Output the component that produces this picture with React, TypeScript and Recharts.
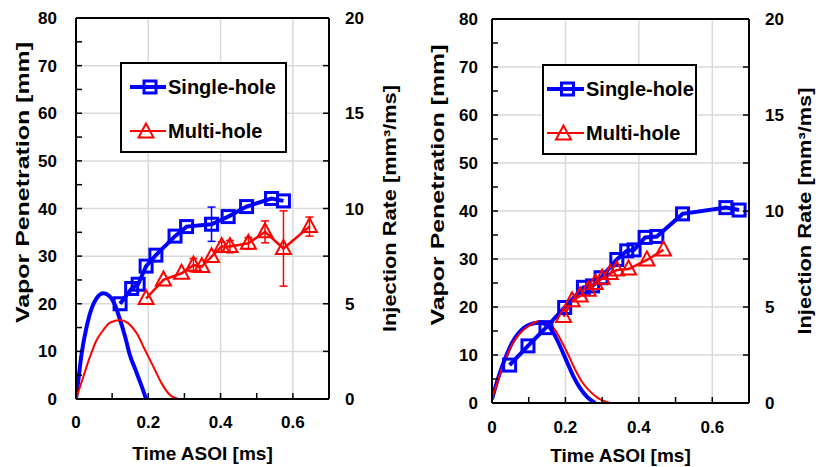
import React from 'react';
import { ComposedChart, Line, XAxis, YAxis, ReferenceLine, ErrorBar, Legend, Label } from 'recharts';

const FONT = '"Liberation Sans", Arial, sans-serif';
const BLUE = '#0000FF';
const RED = '#FF0000';
const GRID = '#D9D9D9';

// axes
const xTicks = [0, 0.1, 0.2, 0.3, 0.4, 0.5, 0.6, 0.7];
const xLabelled = [0, 0.2, 0.4, 0.6];
const penTicks = [0, 5, 10, 15, 20, 25, 30, 35, 40, 45, 50, 55, 60, 65, 70, 75, 80];
const rateTicks = [0, 2.5, 5, 7.5, 10, 12.5, 15, 17.5, 20];
const gridX = [0.2, 0.4, 0.6];
const gridY = [10, 20, 30, 40, 50, 60, 70];

const seriesNames = ['Single-hole', 'Multi-hole'];

// left panel: vapor penetration [mm]
const leftSingleT = [0.122, 0.154, 0.172, 0.194, 0.221, 0.274, 0.306, 0.375, 0.421, 0.472, 0.541, 0.574];
const leftSingleMm = [20.0, 23.2, 24.1, 27.9, 30.2, 34.2, 36.2, 36.7, 38.3, 40.4, 42.1, 41.6];
const leftSingleErr = [null, null, null, null, null, null, null, 3.6, null, null, null, null];
const leftMultiT = [0.194, 0.242, 0.292, 0.325, 0.348, 0.375, 0.403, 0.426, 0.477, 0.523, 0.574, 0.646];
const leftMultiMm = [21.1, 25.0, 26.4, 28.1, 27.8, 29.9, 32.0, 32.0, 32.7, 35.1, 31.6, 36.2];
const leftMultiErr = [null, null, null, 1.4, null, null, 1.0, 1.3, 1.2, 2.3, 7.9, 2.0];

// left panel: injection rate [mm3/ms]
const leftRateSingleT = [0, 0.0065, 0.0157, 0.0295, 0.0434, 0.0572, 0.0756, 0.0922, 0.108, 0.122, 0.136, 0.149, 0.163, 0.177, 0.194];
const leftRateSingleV = [0, 1.0, 2.4, 3.8, 4.76, 5.29, 5.55, 5.41, 4.93, 4.15, 3.27, 2.31, 1.61, 0.91, 0];
const leftRateMultiT = [0, 0.0203, 0.0387, 0.0572, 0.0756, 0.094, 0.122, 0.145, 0.168, 0.191, 0.214, 0.237, 0.26, 0.283];
const leftRateMultiV = [0, 1.17, 2.22, 3.1, 3.62, 4.01, 4.15, 3.97, 3.45, 2.57, 1.7, 0.82, 0.21, 0];

// right panel: vapor penetration [mm]
const rightSingleT = [0.048, 0.098, 0.147, 0.198, 0.249, 0.274, 0.297, 0.34, 0.367, 0.387, 0.417, 0.449, 0.519, 0.637, 0.673];
const rightSingleMm = [7.9, 11.9, 15.7, 19.9, 24.1, 24.4, 26.1, 29.9, 31.7, 31.9, 34.5, 34.7, 39.4, 40.7, 40.2];
const rightMultiT = [0.195, 0.218, 0.24, 0.262, 0.281, 0.3, 0.322, 0.34, 0.372, 0.422, 0.467];
const rightMultiMm = [18.0, 21.3, 22.3, 23.5, 24.9, 26.0, 27.0, 27.7, 27.9, 29.8, 31.9];

// right panel: injection rate [mm3/ms]
const rightRateSingleT = [0, 0.018, 0.036, 0.054, 0.072, 0.0996, 0.127, 0.15, 0.168, 0.186, 0.204, 0.222, 0.24, 0.258, 0.281];
const rightRateSingleV = [0.2, 1.37, 2.33, 3.11, 3.63, 4.06, 4.18, 4.06, 3.63, 2.93, 2.15, 1.37, 0.77, 0.33, 0];
const rightRateMultiT = [0, 0.018, 0.036, 0.054, 0.072, 0.0996, 0.13, 0.154, 0.172, 0.19, 0.208, 0.227, 0.245, 0.263, 0.29, 0.322];
const rightRateMultiV = [0.2, 1.28, 2.24, 3.02, 3.54, 4.01, 4.27, 4.15, 3.8, 3.19, 2.5, 1.72, 1.11, 0.68, 0.24, 0];

type Pt = { t: number; v: number; err: number | null };
const zip = (t: number[], v: number[], e?: (number | null)[]): Pt[] =>
  t.map((x, i) => ({ t: x, v: v[i], err: e ? e[i] : null }));

function Square({ cx, cy }: { cx: number; cy: number }) {
  return <rect x={cx - 6} y={cy - 6} width={12} height={12} fill="none" stroke={BLUE} strokeWidth={3} />;
}

function Triangle({ cx, cy }: { cx: number; cy: number }) {
  return (
    <polygon
      points={`${cx},${cy - 8.5} ${cx - 7.5},${cy + 5.5} ${cx + 7.5},${cy + 5.5}`}
      fill="none"
      stroke={RED}
      strokeWidth={2}
    />
  );
}

const textStyle = { fontSize: 17, fontWeight: 'bold' as const, fontFamily: FONT, fill: '#000' };

function XTick(props: any) {
  const { x, y, payload, m } = props;
  const v = payload.value;
  const show = xLabelled.some(t => Math.abs(t - v) < 1e-6);
  const ay = y - m;
  return (
    <g>
      <line x1={x} x2={x} y1={ay} y2={ay - 6} stroke="#000" strokeWidth={1.5} />
      {show && (
        <text x={x} y={y} dy="0.71em" textAnchor="middle" {...textStyle}>
          {v === 0 ? '0' : v.toFixed(1)}
        </text>
      )}
    </g>
  );
}

function LeftTick(props: any) {
  const { x, y, payload, m } = props;
  const v = payload.value;
  const ax = x + m;
  return (
    <g>
      <line x1={ax} x2={ax + 6} y1={y} y2={y} stroke="#000" strokeWidth={1.5} />
      {v % 10 === 0 && (
        <text x={x} y={y} dy="0.36em" textAnchor="end" {...textStyle}>
          {v}
        </text>
      )}
    </g>
  );
}

function RightTick(props: any) {
  const { x, y, payload, m } = props;
  const v = payload.value;
  const ax = x - m;
  return (
    <g>
      <line x1={ax} x2={ax - 6} y1={y} y2={y} stroke="#000" strokeWidth={1.5} />
      {v % 5 === 0 && (
        <text x={x} y={y} dy="0.36em" textAnchor="start" {...textStyle}>
          {v}
        </text>
      )}
    </g>
  );
}

function VTitle(props: any) {
  const { viewBox, text, bx, dy, len } = props;
  const x = viewBox.x + bx;
  const y = viewBox.y + viewBox.height / 2 + dy;
  return (
    <text
      x={x}
      y={y}
      transform={`rotate(-90, ${x}, ${y})`}
      textAnchor="middle"
      fontSize={18}
      fontWeight="bold"
      fontFamily={FONT}
      fill="#000"
      textLength={len}
      lengthAdjust="spacingAndGlyphs"
    >
      {text}
    </text>
  );
}

function LegendBox(props: any) {
  const { payload, w, h, sample, textX } = props;
  const items = seriesNames
    .map(n => (payload || []).find((p: any) => p.value === n))
    .filter(Boolean);
  return (
    <div
      style={{
        position: 'relative',
        width: w,
        height: h,
        boxSizing: 'border-box',
        border: '2px solid #000',
        background: '#fff',
      }}
    >
      {items.map((it: any, i: number) => {
        const single = it.value === seriesNames[0];
        return (
          <div key={it.value} style={{ position: 'absolute', left: 0, top: 12 + i * 44, height: 22, width: w }}>
            <svg width={sample[1] + 2} height={22} style={{ position: 'absolute', left: 0, top: 0 }}>
              <line
                x1={sample[0]}
                x2={sample[1]}
                y1={11}
                y2={11}
                stroke={single ? BLUE : RED}
                strokeWidth={single ? 4 : 2}
              />
              {single ? (
                <Square cx={(sample[0] + sample[1]) / 2 + 2} cy={11} />
              ) : (
                <Triangle cx={(sample[0] + sample[1]) / 2 - 2} cy={12} />
              )}
            </svg>
            <span
              style={{
                position: 'absolute',
                left: textX,
                top: 0,
                lineHeight: '22px',
                fontSize: 20,
                fontWeight: 'bold',
                fontFamily: FONT,
                color: '#000',
              }}
            >
              {it.value}
            </span>
          </div>
        );
      })}
    </div>
  );
}

interface PanelProps {
  left: number;
  width: number;
  top: number;
  xAxisH: number;
  yLeftW: number;
  yRightW: number;
  xTickM: number;
  lTickM: number;
  rTickM: number;
  xTitleOffset: number;
  lTitle: { bx: number; dy: number; len: number };
  rTitle: { bx: number; dy: number; len: number };
  legend: { left: number; top: number; w: number; h: number; sample: [number, number]; textX: number };
  single: Pt[];
  multi: Pt[];
  rateSingle: Pt[];
  rateMulti: Pt[];
}

function Panel(p: PanelProps) {
  return (
    <div style={{ position: 'absolute', left: p.left, top: 0 }}>
      <ComposedChart width={p.width} height={467} margin={{ top: p.top, right: 0, bottom: 0, left: 0 }}>
        <XAxis
          type="number"
          dataKey="t"
          domain={[0, 0.7]}
          allowDataOverflow
          ticks={xTicks}
          interval={0}
          height={p.xAxisH}
          tickSize={0}
          tickMargin={p.xTickM}
          tick={(tp: any) => <XTick {...tp} m={p.xTickM} />}
          axisLine={{ stroke: '#000', strokeWidth: 2 }}
        >
          <Label
            value="Time ASOI [ms]"
            position="insideBottom"
            offset={p.xTitleOffset}
            fontSize={19}
            fontWeight="bold"
            fontFamily={FONT}
            fill="#000"
          />
        </XAxis>
        <YAxis
          yAxisId="left"
          type="number"
          domain={[0, 80]}
          allowDataOverflow
          ticks={penTicks}
          interval={0}
          width={p.yLeftW}
          tickSize={0}
          tickMargin={p.lTickM}
          tick={(tp: any) => <LeftTick {...tp} m={p.lTickM} />}
          axisLine={{ stroke: '#000', strokeWidth: 2 }}
        >
          <Label content={(lp: any) => <VTitle {...lp} text="Vapor Penetration [mm]" {...p.lTitle} />} />
        </YAxis>
        <YAxis
          yAxisId="right"
          orientation="right"
          type="number"
          domain={[0, 20]}
          allowDataOverflow
          ticks={rateTicks}
          interval={0}
          width={p.yRightW}
          tickSize={0}
          tickMargin={p.rTickM}
          tick={(tp: any) => <RightTick {...tp} m={p.rTickM} />}
          axisLine={{ stroke: '#000', strokeWidth: 2 }}
        >
          <Label content={(lp: any) => <VTitle {...lp} text="Injection Rate [mm³/ms]" {...p.rTitle} />} />
        </YAxis>

        {gridY.map(v => (
          <ReferenceLine key={`gy${v}`} yAxisId="left" y={v} stroke={GRID} strokeWidth={1.5} />
        ))}
        {gridX.map(v => (
          <ReferenceLine key={`gx${v}`} yAxisId="left" x={v} stroke={GRID} strokeWidth={1.5} />
        ))}
        <ReferenceLine yAxisId="left" y={80} stroke="#000" strokeWidth={2} />

        <Line
          yAxisId="right"
          data={p.rateSingle}
          dataKey="v"
          type="monotone"
          stroke={BLUE}
          strokeWidth={4}
          dot={false}
          legendType="none"
          isAnimationActive={false}
        />
        <Line
          yAxisId="right"
          data={p.rateMulti}
          dataKey="v"
          type="monotone"
          stroke={RED}
          strokeWidth={2}
          dot={false}
          legendType="none"
          isAnimationActive={false}
        />
        <Line
          yAxisId="left"
          name={seriesNames[0]}
          data={p.single}
          dataKey="v"
          type="linear"
          stroke={BLUE}
          strokeWidth={4}
          dot={(dp: any) => <Square key={`sq${dp.index}`} cx={dp.cx} cy={dp.cy} />}
          isAnimationActive={false}
        >
          <ErrorBar dataKey="err" direction="y" width={4} stroke={BLUE} strokeWidth={1.5} />
        </Line>
        <Line
          yAxisId="left"
          name={seriesNames[1]}
          data={p.multi}
          dataKey="v"
          type="linear"
          stroke={RED}
          strokeWidth={2.5}
          dot={(dp: any) => <Triangle key={`tr${dp.index}`} cx={dp.cx} cy={dp.cy} />}
          isAnimationActive={false}
        >
          <ErrorBar dataKey="err" direction="y" width={4} stroke={RED} strokeWidth={1.5} />
        </Line>

        <Legend
          layout="vertical"
          align="center"
          verticalAlign="middle"
          wrapperStyle={{ left: p.legend.left, top: p.legend.top, width: p.legend.w, height: p.legend.h }}
          content={(lp: any) => (
            <LegendBox {...lp} w={p.legend.w} h={p.legend.h} sample={p.legend.sample} textX={p.legend.textX} />
          )}
        />
      </ComposedChart>
    </div>
  );
}

export default function App() {
  return (
    <div style={{ position: 'absolute', left: 0, top: 0, width: 818, height: 467, background: '#fff', overflow: 'hidden' }}>
      <Panel
        left={0}
        width={410}
        top={18}
        xAxisH={68}
        yLeftW={76}
        yRightW={81}
        xTickM={17}
        lTickM={19}
        rTickM={16}
        xTitleOffset={7}
        lTitle={{ bx: 29, dy: -26, len: 281 }}
        rTitle={{ bx: 67, dy: 0, len: 247 }}
        legend={{ left: 120, top: 62, w: 167, h: 91, sample: [8, 44], textX: 46 }}
        single={zip(leftSingleT, leftSingleMm, leftSingleErr)}
        multi={zip(leftMultiT, leftMultiMm, leftMultiErr)}
        rateSingle={zip(leftRateSingleT, leftRateSingleV)}
        rateMulti={zip(leftRateMultiT, leftRateMultiV)}
      />
      <Panel
        left={410}
        width={408}
        top={19}
        xAxisH={64}
        yLeftW={82}
        yRightW={69}
        xTickM={18}
        lTickM={14}
        rTickM={16}
        xTitleOffset={5}
        lTitle={{ bx: 34, dy: -26, len: 281 }}
        rTitle={{ bx: 62, dy: 0, len: 247 }}
        legend={{ left: 132, top: 64, w: 155, h: 91, sample: [3, 40], textX: 42 }}
        single={zip(rightSingleT, rightSingleMm)}
        multi={zip(rightMultiT, rightMultiMm)}
        rateSingle={zip(rightRateSingleT, rightRateSingleV)}
        rateMulti={zip(rightRateMultiT, rightRateMultiV)}
      />
    </div>
  );
}
